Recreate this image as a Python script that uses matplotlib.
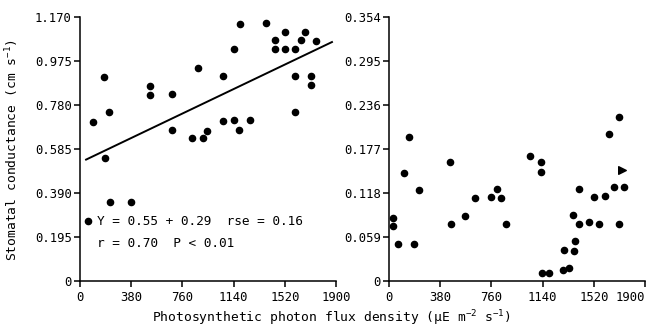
import matplotlib
matplotlib.use("Agg")
import matplotlib.pyplot as plt

# left panel: stomatal conductance vs PPFD
left_x = [99, 178, 188, 215, 520, 520, 683, 683, 833, 876, 911, 945, 1059, 1064,
          1143, 1141, 1185, 1182, 1260, 1378, 1447, 1447, 1524, 1524, 1598, 1598,
          1596, 1642, 1668, 1714, 1712, 1752, 225, 376, 62]
left_y = [0.706, 0.903, 0.544, 0.749, 0.866, 0.823, 0.829, 0.668, 0.635, 0.943,
          0.635, 0.665, 0.907, 0.710, 1.027, 0.712, 1.138, 0.671, 0.712, 1.145,
          1.067, 1.027, 1.102, 1.027, 1.027, 0.907, 0.748, 1.069, 1.102, 0.907,
          0.867, 1.064, 0.351, 0.351, 0.266]
fit_x = [45, 1870]
fit_y = [0.538, 1.059]

# right panel
right_x = [151, 455, 1046, 1130, 1631, 1707, 1130, 109, 33, 33, 67, 225, 186, 458,
           566, 638, 759, 802, 833, 868, 1136, 1190, 1289, 1338, 1301, 1375, 1378,
           1366, 1408, 1408, 1484, 1521, 1559, 1603, 1672, 1705, 1744]
right_y = [0.1925, 0.159, 0.168, 0.159, 0.1965, 0.220, 0.146, 0.145, 0.085, 0.074,
           0.049, 0.122, 0.049, 0.076, 0.087, 0.111, 0.112, 0.124, 0.111, 0.077,
           0.011, 0.011, 0.015, 0.017, 0.041, 0.040, 0.053, 0.089, 0.124, 0.076,
           0.079, 0.113, 0.077, 0.114, 0.126, 0.077, 0.126]
odd_x = [1727]
odd_y = [0.149]

x_ticks = [0, 380, 760, 1140, 1520, 1900]
left_yticks = [0, 0.195, 0.390, 0.585, 0.780, 0.975, 1.170]
right_yticks = [0, 0.059, 0.118, 0.177, 0.236, 0.295, 0.354]

FONT = "DejaVu Sans Mono"
plt.rcParams['font.family'] = [FONT, 'DejaVu Sans']
plt.rcParams['mathtext.fontset'] = 'custom'
plt.rcParams['mathtext.rm'] = FONT
plt.rcParams['mathtext.it'] = FONT

W, H = 654, 327
fig = plt.figure(figsize=(W / 100, H / 100), dpi=100)
fig.patch.set_facecolor("white")


def fmt(v):
    return "0" if v == 0 else f"{v:.3f}"


def style(ax, yticks):
    for s in ["top", "right"]:
        ax.spines[s].set_visible(False)
    for s in ["left", "bottom"]:
        ax.spines[s].set_linewidth(1.1)
    ax.set_xlim(0, 1900)
    ax.set_ylim(0, yticks[-1])
    ax.set_xticks(x_ticks)
    ax.set_xticklabels([str(t) for t in x_ticks])
    ax.set_yticks(yticks)
    ax.set_yticklabels([fmt(v) for v in yticks])
    ax.tick_params(direction="out", length=4.5, width=1.1, labelsize=8.8, pad=1.5)
    ax.tick_params(axis="x", pad=2.5)


ax1 = fig.add_axes([80 / W, 1 - 281 / H, 256 / W, 264 / H])
ax1.scatter(left_x, left_y, s=20, color="black", clip_on=False, zorder=3)
ax1.plot(fit_x, fit_y, color="black", lw=1.4)
ax1.text(124, 0.263, "Y = 0.55 + 0.29  rse = 0.16", fontsize=9.2, va="center", ha="left")
ax1.text(124, 0.164, "r = 0.70  P < 0.01", fontsize=9.2, va="center", ha="left")
style(ax1, left_yticks)

ax2 = fig.add_axes([389 / W, 1 - 281 / H, 256 / W, 264 / H])
ax2.scatter(right_x, right_y, s=20, color="black", clip_on=False, zorder=3)
ax2.scatter(odd_x, odd_y, s=30, marker=">", color="black", zorder=3)
style(ax2, right_yticks)
# last label sits inside the figure edge
ax2.get_xticklabels()[-1].set_horizontalalignment("right")

fig.text(12 / W, 1 - 150 / H, "Stomatal conductance (cm s$^{-1}$)", rotation=90,
         fontsize=9.4, ha="center", va="center")
fig.text(331 / W, 1 - 318 / H, "Photosynthetic photon flux density (\u03bcE m$^{-2}$ s$^{-1}$)",
         fontsize=9.4, ha="center", va="center")

fig.savefig("out.png", dpi=100)
